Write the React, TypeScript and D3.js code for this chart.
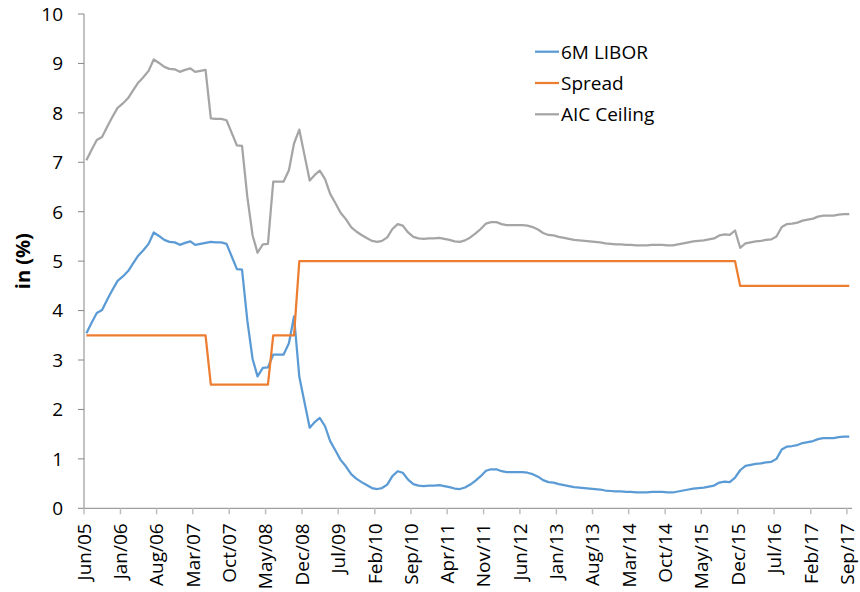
import React from "react";
import * as d3 from "d3";

const startMonth = "2005-06";
const tickLabels = ["Jun/05","Jan/06","Aug/06","Mar/07","Oct/07","May/08","Dec/08","Jul/09","Feb/10","Sep/10","Apr/11","Nov/11","Jun/12","Jan/13","Aug/13","Mar/14","Oct/14","May/15","Dec/15","Jul/16","Feb/17","Sep/17"];
const yTicks = [0,1,2,3,4,5,6,7,8,9,10];

const libor = [
  3.54,3.75,3.95,4.01,4.22,4.42,4.60,4.69,4.80,4.95,5.11,5.22,5.35,5.58,5.51,5.43,5.39,5.38,5.33,5.37,
  5.40,5.33,5.35,5.37,5.39,5.38,5.38,5.35,5.10,4.84,4.83,3.80,3.02,2.67,2.84,2.85,3.11,3.11,3.11,3.34,
  3.88,2.66,2.15,1.63,1.75,1.83,1.66,1.36,1.17,0.98,0.85,0.69,0.60,0.53,0.47,0.41,0.39,0.41,0.48,0.65,
  0.75,0.72,0.58,0.49,0.46,0.45,0.46,0.46,0.47,0.45,0.43,0.40,0.39,0.42,0.48,0.56,0.65,0.76,0.79,0.79,
  0.75,0.73,0.73,0.73,0.73,0.72,0.69,0.64,0.57,0.53,0.52,0.49,0.47,0.45,0.43,0.42,0.41,0.40,0.39,0.38,
  0.36,0.35,0.34,0.34,0.33,0.33,0.32,0.32,0.32,0.33,0.33,0.33,0.32,0.32,0.34,0.36,0.38,0.40,0.41,0.42,
  0.44,0.46,0.52,0.54,0.53,0.62,0.77,0.86,0.88,0.90,0.91,0.93,0.94,1.00,1.19,1.25,1.26,1.28,1.32,1.34,
  1.36,1.40,1.42,1.42,1.42,1.44,1.45,1.45
];

const spread = [
  3.5,3.5,3.5,3.5,3.5,3.5,3.5,3.5,3.5,3.5,3.5,3.5,3.5,3.5,3.5,3.5,3.5,3.5,3.5,3.5,
  3.5,3.5,3.5,3.5,2.5,2.5,2.5,2.5,2.5,2.5,2.5,2.5,2.5,2.5,2.5,2.5,3.5,3.5,3.5,3.5,
  3.5,5,5,5,5,5,5,5,5,5,5,5,5,5,5,5,5,5,5,5,
  5,5,5,5,5,5,5,5,5,5,5,5,5,5,5,5,5,5,5,5,
  5,5,5,5,5,5,5,5,5,5,5,5,5,5,5,5,5,5,5,5,
  5,5,5,5,5,5,5,5,5,5,5,5,5,5,5,5,5,5,5,5,
  5,5,5,5,5,5,4.5,4.5,4.5,4.5,4.5,4.5,4.5,4.5,4.5,4.5,4.5,4.5,4.5,4.5,
  4.5,4.5,4.5,4.5,4.5,4.5,4.5,4.5
];

const aicCeiling = [
  7.04,7.25,7.45,7.51,7.72,7.92,8.10,8.19,8.30,8.45,8.61,8.72,8.85,9.08,9.01,8.93,8.89,8.88,8.83,8.87,
  8.90,8.83,8.85,8.87,7.89,7.88,7.88,7.85,7.60,7.34,7.33,6.30,5.52,5.17,5.34,5.35,6.61,6.61,6.61,6.84,
  7.38,7.66,7.15,6.63,6.75,6.83,6.66,6.36,6.17,5.98,5.85,5.69,5.60,5.53,5.47,5.41,5.39,5.41,5.48,5.65,
  5.75,5.72,5.58,5.49,5.46,5.45,5.46,5.46,5.47,5.45,5.43,5.40,5.39,5.42,5.48,5.56,5.65,5.76,5.79,5.79,
  5.75,5.73,5.73,5.73,5.73,5.72,5.69,5.64,5.57,5.53,5.52,5.49,5.47,5.45,5.43,5.42,5.41,5.40,5.39,5.38,
  5.36,5.35,5.34,5.34,5.33,5.33,5.32,5.32,5.32,5.33,5.33,5.33,5.32,5.32,5.34,5.36,5.38,5.40,5.41,5.42,
  5.44,5.46,5.52,5.54,5.53,5.62,5.27,5.36,5.38,5.40,5.41,5.43,5.44,5.50,5.69,5.75,5.76,5.78,5.82,5.84,
  5.86,5.90,5.92,5.92,5.92,5.94,5.95,5.95
];

const seriesNames = ["6M LIBOR", "Spread", "AIC Ceiling"];
const seriesColors = ["#5B9BD5", "#ED7D31", "#A5A5A5"];

const W = 860, H = 592;
const FONT = "'Open Sans', 'Noto Sans', sans-serif";

export default function App() {
  const start = d3.timeParse("%Y-%m")(startMonth) as Date;
  const parseLabel = d3.timeParse("%b/%y");
  const tickDates = tickLabels.map((l) => parseLabel(l) as Date);
  const end = d3.timeMonth.offset(tickDates[tickDates.length - 1], 1);

  const x = d3.scaleTime().domain([start, end]).range([84, 852]);
  const y = d3.scaleLinear().domain([0, 10]).range([508.3, 14]);

  const dateOf = (i: number) => d3.timeDay.offset(d3.timeMonth.offset(start, i), 14);
  const line = d3.line<number>().x((_, i) => x(dateOf(i))).y((v) => y(v));

  const allSeries = [libor, spread, aicCeiling];

  return (
    <svg width={W} height={H} style={{ position: "absolute", left: 0, top: 0, background: "#fff" }} fontFamily={FONT}>
      {/* y axis */}
      <line x1={84} x2={84} y1={y(0)} y2={y(10)} stroke="#868686" strokeWidth={1} />
      {yTicks.map((t) => (
        <g key={t}>
          <line x1={78} x2={84} y1={y(t)} y2={y(t)} stroke="#868686" />
          <text x={63} y={y(t)} dy="0.36em" textAnchor="end" fontSize={19} fill="#000">{t}</text>
        </g>
      ))}
      <text transform={`translate(30,${(y(0) + y(10)) / 2}) rotate(-90)`} textAnchor="middle" fontSize={20} fontWeight="bold" fill="#000">in (%)</text>
      {/* x axis */}
      <line x1={84} x2={852} y1={y(0)} y2={y(0)} stroke="#868686" strokeWidth={1} />
      {tickDates.map((d, k) => (
        <g key={k}>
          <line x1={x(d)} x2={x(d)} y1={y(0)} y2={y(0) + 6} stroke="#BFBFBF" strokeWidth={1.5} />
          <text transform={`translate(${x(d)},${y(0) + 15}) rotate(-90)`} textAnchor="end" dy="0.36em" fontSize={19} fill="#000">{tickLabels[k]}</text>
        </g>
      ))}
      {/* series */}
      {allSeries.map((s, k) => (
        <path key={k} d={line(s) || ""} fill="none" stroke={seriesColors[k]} strokeWidth={2.25} strokeLinejoin="round" />
      ))}
      {/* legend */}
      {seriesNames.map((n, k) => (
        <g key={n} transform={`translate(535,${51.7 + k * 31.3})`}>
          <line x1={0} x2={24} y1={0} y2={0} stroke={seriesColors[k]} strokeWidth={2.25} />
          <text x={26} y={0} dy="0.36em" fontSize={19} fill="#000">{n}</text>
        </g>
      ))}
    </svg>
  );
}
